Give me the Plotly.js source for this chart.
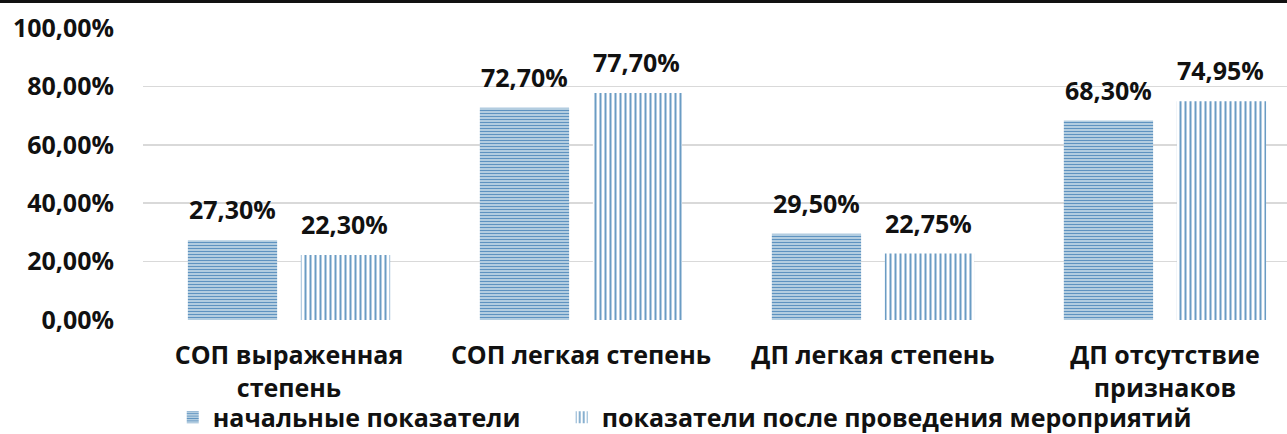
<!DOCTYPE html>
<html>
<head>
<meta charset="utf-8">
<script src="https://cdn.plot.ly/plotly-3.0.1.min.js"></script>
<style>
html,body{margin:0;padding:0;background:#fff;}
#top{height:3px;background:#111;width:1287px;}
#chart{width:1287px;height:431px;}
</style>
</head>
<body>
<div id="top"></div>
<div id="chart"></div>
<script>
const categories = ["СОП выраженная<br>степень", "СОП легкая степень", "ДП легкая степень", "ДП отсутствие<br>признаков"];
const seriesNames = ["начальные показатели", "показатели после проведения мероприятий"];
const initialValues = [27.30, 72.70, 29.50, 68.30];
const afterValues = [22.30, 77.70, 22.75, 74.95];
const yTickValues = [0, 20, 40, 60, 80, 100];
const yTickLabels = ["0,00%", "20,00%", "40,00%", "60,00%", "80,00%", "100,00%"];

function fmt(v){ return v.toFixed(2).replace('.', ',') + '%'; }

const FONT = "Open Sans, Noto Sans, sans-serif";
const boldFont = {family: FONT, size: 25, color: "#111", weight: 700};

const traces = [
  {
    type: "bar", name: seriesNames[0], x: categories, y: initialValues,
    legend: "legend",
    marker: {color: "#a9c6dc", line: {width: 0},
      pattern: {shape: "-", fgcolor: "#5f93c0", bgcolor: "#b3cde0", size: 3, solidity: 0.35}},
    hoverinfo: "none"
  },
  {
    type: "bar", name: seriesNames[1], x: categories, y: afterValues,
    legend: "legend2",
    marker: {color: "#ffffff", line: {width: 0},
      pattern: {shape: "|", fgcolor: "#6a9cc4", bgcolor: "#ffffff", size: 5, solidity: 0.4}},
    hoverinfo: "none"
  }
];

const annotations = [];
[initialValues, afterValues].forEach((vals, si) => {
  vals.forEach((v, i) => {
    annotations.push({
      x: i, y: v, xref: "x", yref: "y",
      text: fmt(v), showarrow: false,
      xshift: si === 0 ? -56 : 56, yshift: 31,
      yanchor: "middle", font: boldFont
    });
  });
});

const legendBase = {
  orientation: "h", xanchor: "left", y: -0.334, yanchor: "middle",
  font: boldFont, itemwidth: 30, bgcolor: "rgba(0,0,0,0)"
};

const layout = {
  width: 1287, height: 431,
  margin: {l: 143, r: 0, t: 25, b: 114, autoexpand: false},
  paper_bgcolor: "#fff", plot_bgcolor: "#fff",
  showlegend: true,
  barmode: "group", bargap: 0.226, bargroupgap: 0.21,
  xaxis: {
    type: "category", range: [-0.5, 3.418],
    showgrid: false, zeroline: false, showline: false, ticks: "",
    tickfont: boldFont, ticklabelstandoff: 18, automargin: false
  },
  yaxis: {
    range: [0, 100], tickvals: yTickValues, ticktext: yTickLabels,
    showgrid: true, gridcolor: "#d9d9d9", gridwidth: 1.5,
    zeroline: false, showline: false, ticks: "",
    tickfont: boldFont, ticklabelstandoff: 28, automargin: false
  },
  legend: Object.assign({}, legendBase, {x: 0.026}),
  legend2: Object.assign({}, legendBase, {x: 0.366}),
  annotations: annotations
};

Plotly.newPlot("chart", traces, layout, {displayModeBar: false, staticPlot: true});
</script>
</body>
</html>
